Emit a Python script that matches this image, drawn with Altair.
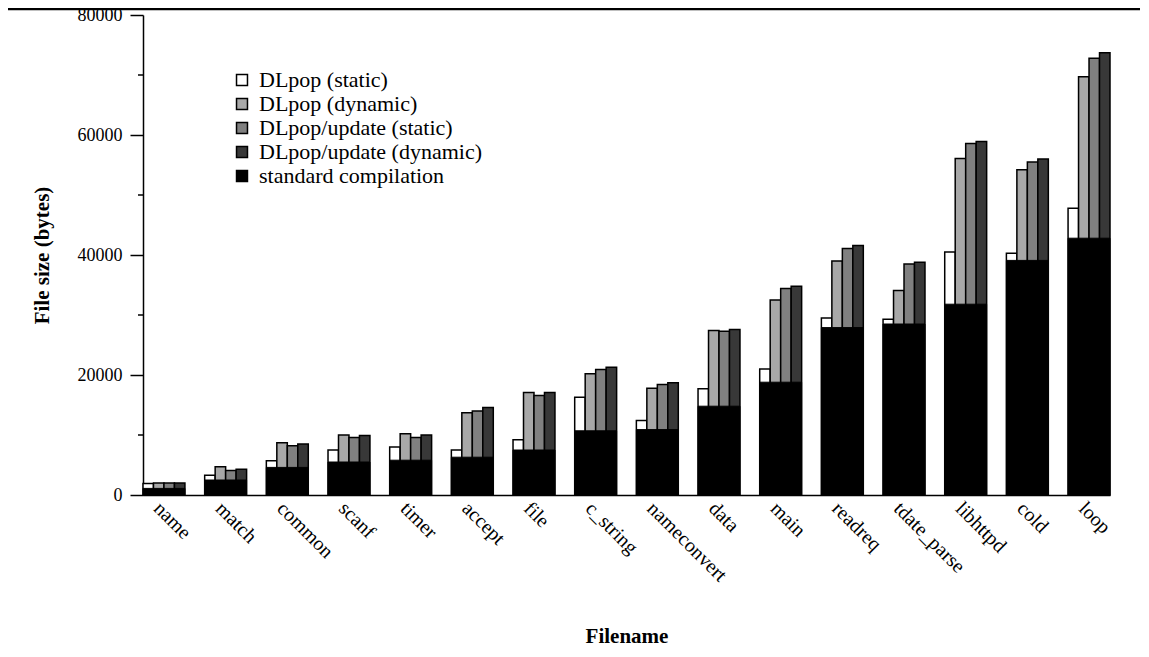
import altair as alt
import pandas as pd

files = ["name", "match", "common", "scanf", "timer", "accept", "file", "c_string",
         "nameconvert", "data", "main", "readreq", "tdate_parse", "libhttpd", "cold", "loop"]
dl_static = [1900, 3300, 5700, 7500, 8000, 7500, 9200, 16300, 12400, 17700, 21000, 29500, 29300, 40500, 40300, 47800]
dl_dynamic = [2000, 4700, 8700, 10000, 10200, 13700, 17100, 20200, 17800, 27400, 32500, 39000, 34100, 56100, 54200, 69700]
upd_static = [2000, 4100, 8200, 9600, 9600, 14000, 16600, 20900, 18400, 27300, 34400, 41100, 38500, 58600, 55500, 72800]
upd_dynamic = [2000, 4300, 8500, 9900, 10000, 14600, 17100, 21300, 18700, 27600, 34800, 41600, 38800, 58900, 56000, 73700]
standard = [1100, 2500, 4600, 5500, 5800, 6300, 7500, 10700, 10900, 14800, 18800, 27900, 28500, 31800, 39100, 42800]

series_names = ["DLpop (static)", "DLpop (dynamic)", "DLpop/update (static)",
                "DLpop/update (dynamic)", "standard compilation"]
series_colors = ["#ffffff", "#a8a8a8", "#808080", "#383838", "#000000"]
major_ticks = [0, 20000, 40000, 60000, 80000]
minor_ticks = [10000, 30000, 50000, 70000]

rows = []
for name, vals in zip(series_names[:4], [dl_static, dl_dynamic, upd_static, upd_dynamic]):
    for f, v in zip(files, vals):
        rows.append({"filename": f, "series": name, "value": v})
df = pd.DataFrame(rows)
std_df = pd.DataFrame({"filename": files, "series": series_names[4], "value": standard})
minor_df = pd.DataFrame({"v": minor_ticks})

FONT = "Liberation Serif"
W, H = 967, 480

x_enc = alt.X("filename:N", sort=files, title="Filename",
              scale=alt.Scale(paddingInner=0.32, paddingOuter=0),
              axis=alt.Axis(labelAngle=45, labelAlign="left", labelBaseline="middle",
                            labelPadding=10, labelOffset=-7, ticks=False,
                            domainColor="black", domainWidth=1.5,
                            labelFont=FONT, labelFontSize=20, labelColor="black",
                            titleFont=FONT, titleFontSize=21, titleFontWeight="bold",
                            titleColor="black", titleY=141, titleBaseline="middle"))
y_scale = alt.Scale(domain=[0, 80000], nice=False)
y_enc = alt.Y("value:Q", stack=None, scale=y_scale, title="File size (bytes)",
              axis=alt.Axis(values=major_ticks, format="d", tickSize=13,
                            tickColor="black", tickWidth=1.5, domainColor="black", domainWidth=1.5,
                            grid=False, labelPadding=8, labelFont=FONT, labelFontSize=18,
                            labelColor="black", titleFont=FONT, titleFontSize=21,
                            titleFontWeight="bold", titleColor="black", titleX=-101,
                            titleY=H / 2, titleAngle=-90, titleBaseline="middle"))
color_enc = alt.Color("series:N", scale=alt.Scale(domain=series_names, range=series_colors),
                      title=None,
                      legend=alt.Legend(orient="none", legendX=88, legendY=54,
                                        symbolType="square", symbolSize=120,
                                        symbolStrokeColor="black", symbolStrokeWidth=1.5,
                                        labelFont=FONT, labelFontSize=22, labelColor="black",
                                        rowPadding=2, labelOffset=6, labelLimit=400))

bars = alt.Chart(df).mark_bar(stroke="black", strokeWidth=1.5).encode(
    x=x_enc,
    xOffset=alt.XOffset("series:N", sort=series_names[:4],
                        scale=alt.Scale(paddingInner=0, paddingOuter=0)),
    y=y_enc,
    color=color_enc,
)
std_bars = alt.Chart(std_df).mark_bar(stroke="black", strokeWidth=1).encode(
    x=x_enc,
    y=y_enc,
    color=color_enc,
)
minor = alt.Chart(minor_df).mark_rule(color="black", strokeWidth=1.5).encode(
    y=alt.Y("v:Q", scale=y_scale),
    x=alt.value(-5), x2=alt.value(0),
)
top_line = alt.Chart(minor_df.head(1)).mark_rule(color="black", strokeWidth=2.5).encode(
    x=alt.value(-135), x2=alt.value(1000), y=alt.value(-6),
)

chart = alt.layer(bars, std_bars, minor, top_line).properties(
    width=W, height=H,
    padding={"left": 135, "top": 7, "right": 30, "bottom": 152},
    autosize=alt.AutoSizeParams(type="none"),
    background="white",
).configure_view(stroke=None)

chart.save("out.html", embed_options={"renderer": "svg", "actions": False})
